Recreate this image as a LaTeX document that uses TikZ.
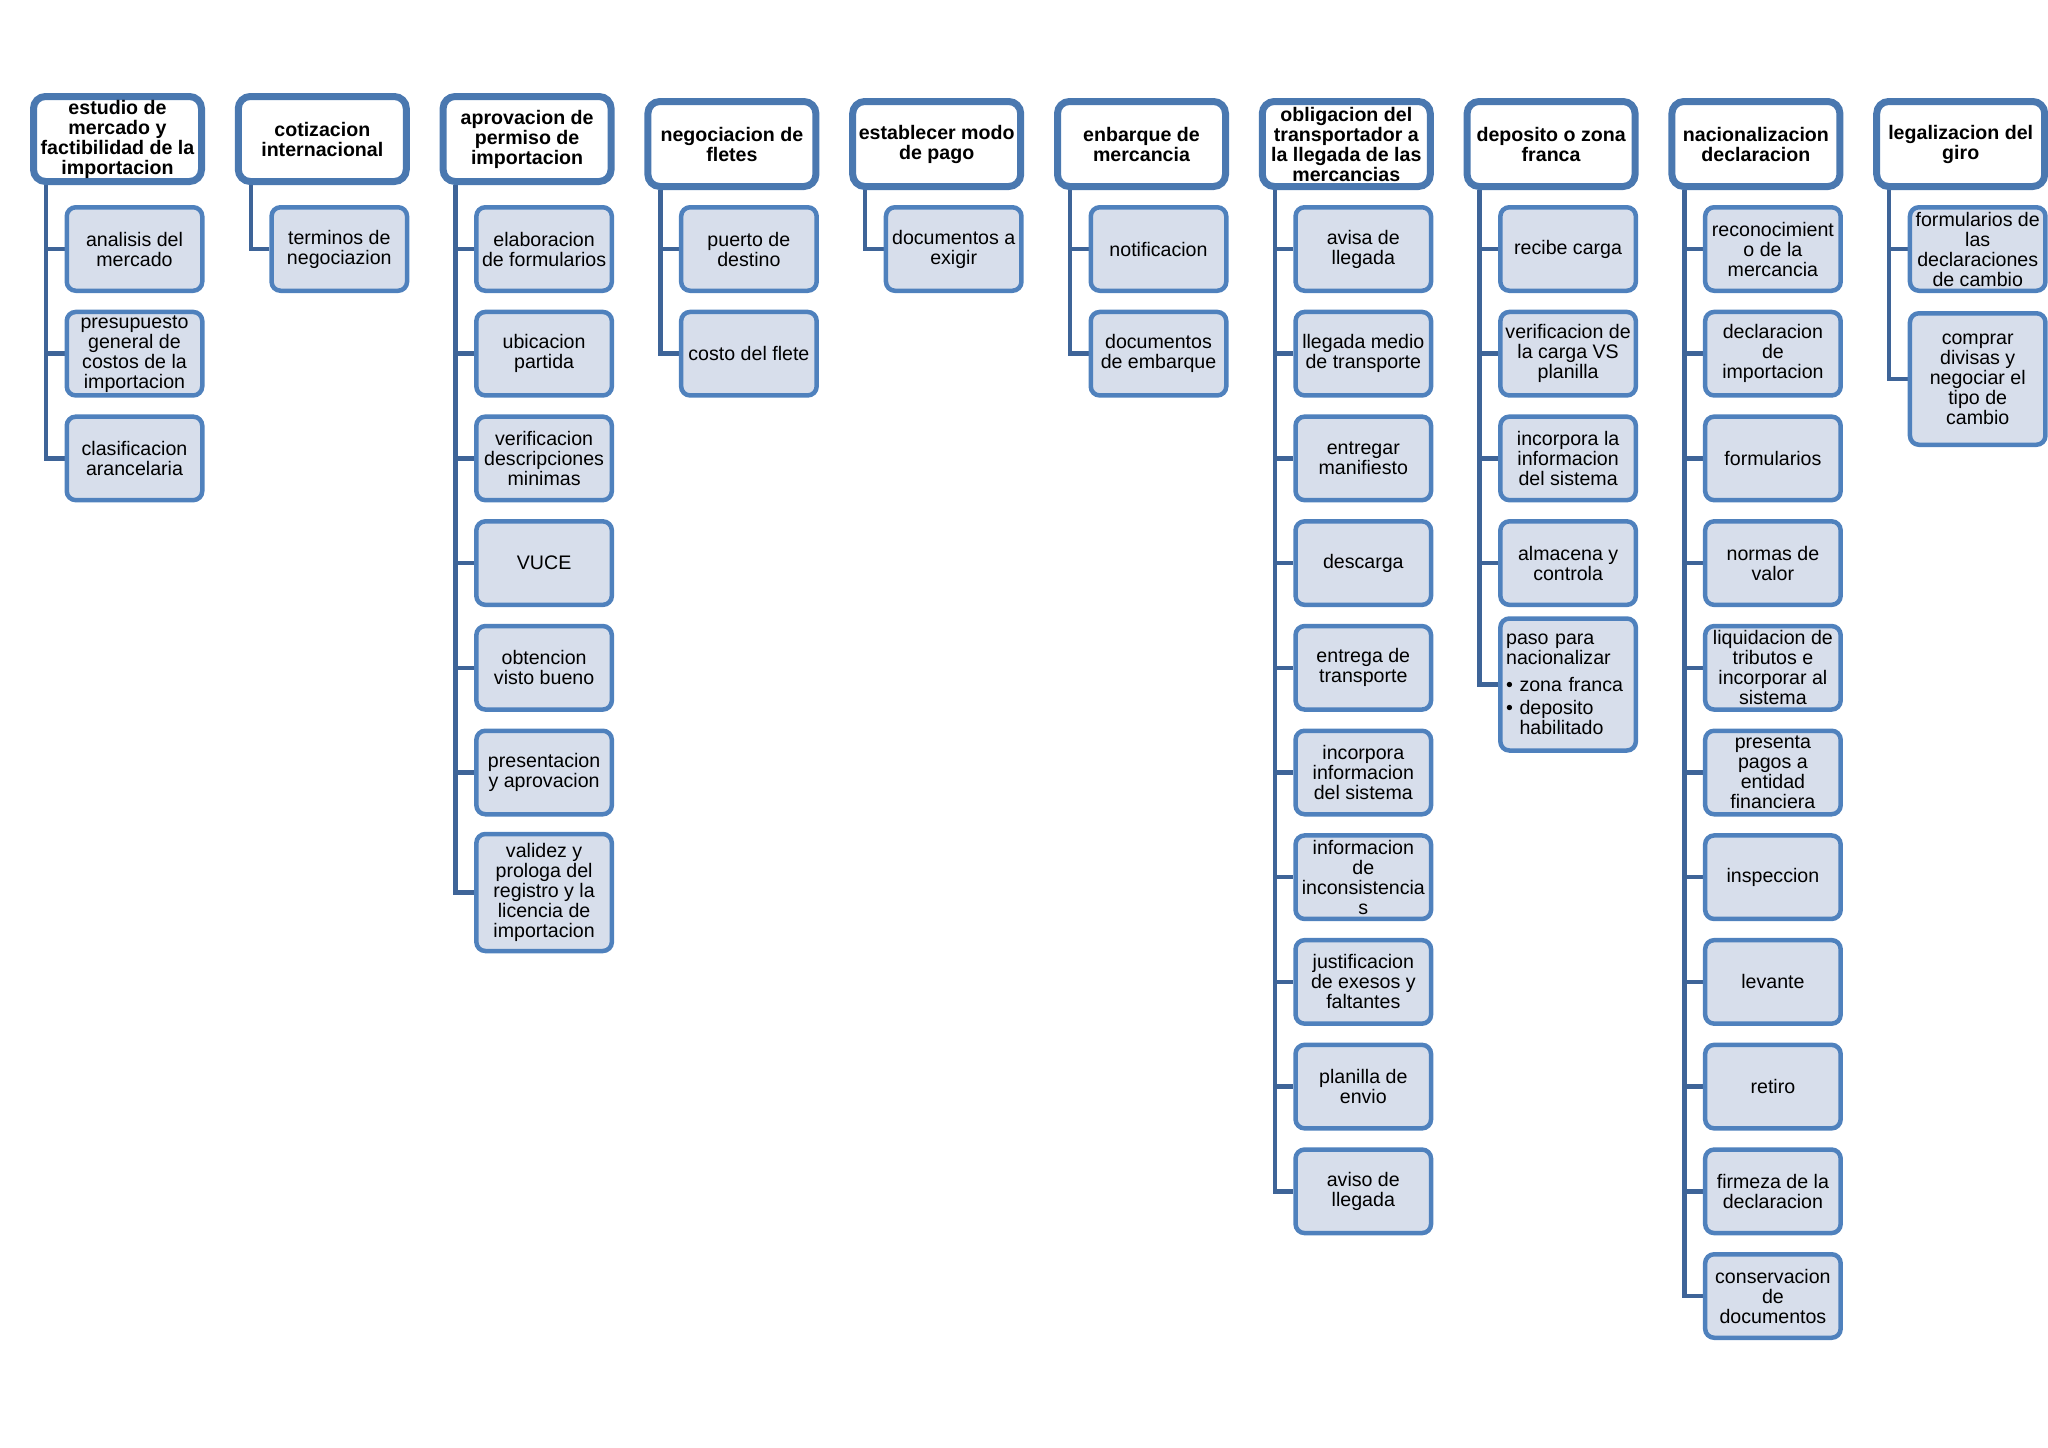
\documentclass[tikz,border=0pt]{standalone}
\usepackage{fontspec}
\setmainfont{Liberation Sans}
\usetikzlibrary{backgrounds,shadows}
\definecolor{hdrline}{RGB}{74,120,176}
\definecolor{kidline}{RGB}{79,129,189}
\definecolor{kidfill}{RGB}{215,222,235}
\definecolor{connc}{RGB}{62,100,152}
\newcommand\hd[3]{\node[hdr] (h#1) at ({117.5+204.8*#1},#2) {#3};
  \coordinate (v#1) at ([xshift=16pt]h#1.south west);}
\newcommand\kd[3]{\node[kid] (c#1-#2) at ({134.5+204.8*#1},{249+104.7*(#2-1)}) {#3};
  \begin{scope}[on background layer]\draw[conn] (v#1 |- c#1-#2.west) -- (c#1-#2.west);\end{scope}}
\newcommand\vl[2]{\begin{scope}[on background layer]\draw[conn] (v#1) |- (c#1-#2.west);\end{scope}}
\begin{document}
\begin{tikzpicture}[x=1pt,y=-1pt,
  hdr/.style={draw=hdrline, line width=7pt, fill=white, rounded corners=12pt,
    minimum width=168pt, minimum height=85pt, inner sep=1pt, align=center,
    font=\bfseries\fontsize{19.6}{20}\selectfont,
    drop shadow={opacity=0.18, shadow xshift=1pt, shadow yshift=-3pt}},
  kid/.style={draw=kidline, line width=4.5pt, fill=kidfill, rounded corners=9pt,
    minimum width=135.5pt, minimum height=83.5pt, inner sep=1pt, align=center,
    font=\fontsize{19.6}{20}\selectfont},
  conn/.style={draw=connc, line width=4.5pt}]
\useasboundingbox (0,0) rectangle (2048,1448);

% column 0
\hd{0}{139}{estudio de\\mercado y\\factibilidad de la\\importacion}
\kd{0}{1}{analisis del\\mercado}
\kd{0}{2}{presupuesto\\general de\\costos de la\\importacion}
\kd{0}{3}{clasificacion\\arancelaria}
\vl{0}{3}

% column 1
\hd{1}{139}{cotizacion\\internacional}
\kd{1}{1}{terminos de\\negociazion}
\vl{1}{1}

% column 2
\hd{2}{139}{aprovacion de\\permiso de\\importacion}
\kd{2}{1}{elaboracion\\de formularios}
\kd{2}{2}{ubicacion\\partida}
\kd{2}{3}{verificacion\\descripciones\\minimas}
\kd{2}{4}{VUCE}
\kd{2}{5}{obtencion\\visto bueno}
\kd{2}{6}{presentacion\\y aprovacion}
\node[kid, minimum height=117pt] (c2-7) at ({134.5+204.8*2},892.5) {validez y\\prologa del\\registro y la\\licencia de\\importacion};
\begin{scope}[on background layer]\draw[conn] (v2) |- (c2-7.west);\end{scope}

% column 3
\hd{3}{144}{negociacion de\\fletes}
\kd{3}{1}{puerto de\\destino}
\kd{3}{2}{costo del flete}
\vl{3}{2}

% column 4
\hd{4}{144}{establecer modo\\de pago}
\kd{4}{1}{documentos a\\exigir}
\vl{4}{1}

% column 5
\hd{5}{144}{enbarque de\\mercancia}
\kd{5}{1}{notificacion}
\kd{5}{2}{documentos\\de embarque}
\vl{5}{2}

% column 6
\hd{6}{144}{obligacion del\\transportador a\\la llegada de las\\mercancias}
\kd{6}{1}{avisa de\\llegada}
\kd{6}{2}{llegada medio\\de transporte}
\kd{6}{3}{entregar\\manifiesto}
\kd{6}{4}{descarga}
\kd{6}{5}{entrega de\\transporte}
\kd{6}{6}{incorpora\\informacion\\del sistema}
\kd{6}{7}{informacion\\de\\inconsistencia\\s}
\kd{6}{8}{justificacion\\de exesos y\\faltantes}
\kd{6}{9}{planilla de\\envio}
\kd{6}{10}{aviso de\\llegada}
\vl{6}{10}

% column 7
\hd{7}{144}{deposito o zona\\franca}
\kd{7}{1}{recibe carga}
\kd{7}{2}{verificacion de\\la carga VS\\planilla}
\kd{7}{3}{incorpora la\\informacion\\del sistema}
\kd{7}{4}{almacena y\\controla}
\node[kid, minimum height=132pt, text width=124pt, inner xsep=5.5pt, align=left] (c7-5) at ({134.5+204.8*7},684.5)
  {paso para\\nacionalizar\\[7pt]\textbullet\ zona franca\\[3pt]\textbullet\ deposito\\\phantom{\textbullet\ }habilitado};
\begin{scope}[on background layer]\draw[conn] (v7) |- (c7-5.west);\end{scope}

% column 8
\hd{8}{144}{nacionalizacion\\declaracion}
\kd{8}{1}{reconocimient\\o de la\\mercancia}
\kd{8}{2}{declaracion\\de\\importacion}
\kd{8}{3}{formularios}
\kd{8}{4}{normas de\\valor}
\kd{8}{5}{liquidacion de\\tributos e\\incorporar al\\sistema}
\kd{8}{6}{presenta\\pagos a\\entidad\\financiera}
\kd{8}{7}{inspeccion}
\kd{8}{8}{levante}
\kd{8}{9}{retiro}
\kd{8}{10}{firmeza de la\\declaracion}
\kd{8}{11}{conservacion\\de\\documentos}
\vl{8}{11}

% column 9
\hd{9}{144}{legalizacion del\\giro}
\kd{9}{1}{formularios de\\las\\declaraciones\\de cambio}
\node[kid, minimum height=131.5pt] (c9-2) at ({134.5+204.8*9},379) {comprar\\divisas y\\negociar el\\tipo de\\cambio};
\begin{scope}[on background layer]\draw[conn] (v9) |- (c9-2.west);\end{scope}
\end{tikzpicture}
\end{document}
